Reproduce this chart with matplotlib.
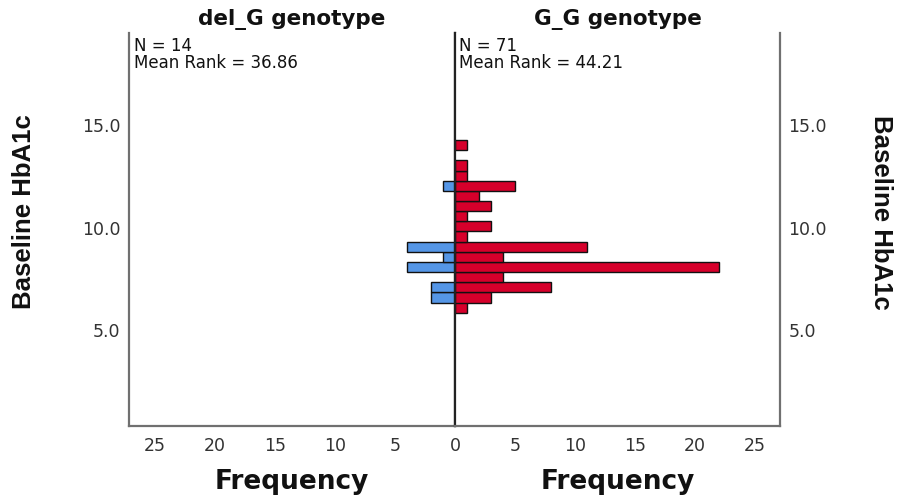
import matplotlib
matplotlib.use("Agg")
import matplotlib.pyplot as plt

# ---------------------------------------------------------------
# datos (bins de HbA1c, ancho ~0.5)
# ---------------------------------------------------------------
bin_centers = [6.12, 6.61, 7.11, 7.60, 8.10, 8.59, 9.09, 9.58, 10.08,
               10.57, 11.07, 11.56, 12.06, 12.55, 13.05, 14.04]
gg_counts   = [1, 3, 8, 4, 22, 4, 11, 1, 3, 1, 3, 2, 5, 1, 1, 1]
delg_counts = [0, 2, 2, 0, 4, 1, 4, 0, 0, 0, 0, 0, 1, 0, 0, 0]
bin_height  = 0.495

groups      = ["del_G genotype", "G_G genotype"]
n_labels    = ["N = 14", "N = 71"]
rank_labels = ["Mean Rank = 36.86", "Mean Rank = 44.21"]
y_ticks     = [5.0, 10.0, 15.0]
x_ticks_l   = [25, 20, 15, 10, 5]
x_ticks_r   = [0, 5, 10, 15, 20, 25]

RED   = "#D6002B"
BLUE  = "#5596E6"
FRAME = "#707070"
DARK  = "#222222"
TXT   = "#333333"

fig = plt.figure(figsize=(9.02, 5.0), dpi=100)
W, H = 902, 500

def px(x0, y0, x1, y1):
    return [x0 / W, 1 - y1 / H, (x1 - x0) / W, (y1 - y0) / H]

ax_l = fig.add_axes(px(129, 33, 455, 426))
ax_r = fig.add_axes(px(455, 33, 780, 426))

ax_l.barh(bin_centers, delg_counts, height=bin_height, color=BLUE,
          edgecolor="#111111", linewidth=1.0, zorder=2)
ax_r.barh(bin_centers, gg_counts, height=bin_height, color=RED,
          edgecolor="#111111", linewidth=1.0, zorder=2)

ylo, yhi = 0.34, 19.51
ax_l.set_xlim(326 / 12, 0)
ax_r.set_xlim(0, 325 / 12)
for ax in (ax_l, ax_r):
    ax.set_ylim(ylo, yhi)
    ax.spines["top"].set_visible(False)
    for s in ax.spines.values():
        s.set_color(FRAME)
        s.set_linewidth(1.6)
    ax.tick_params(length=0, labelsize=12.5, labelcolor=TXT)

# linea central
ax_l.spines["right"].set_color(DARK)
ax_r.spines["left"].set_color(DARK)

ax_l.set_xticks(x_ticks_l)
ax_l.set_xticklabels([str(v) for v in x_ticks_l])
ax_r.set_xticks(x_ticks_r)
ax_r.set_xticklabels([str(v) for v in x_ticks_r])
ax_l.tick_params(axis="x", pad=8)
ax_r.tick_params(axis="x", pad=8)

ax_l.set_yticks(y_ticks)
ax_l.set_yticklabels([f"{v:.1f}" for v in y_ticks])
ax_l.tick_params(axis="y", pad=6)
ax_r.set_yticks(y_ticks)
ax_r.set_yticklabels([f"{v:.1f}" for v in y_ticks])
ax_r.yaxis.tick_right()
ax_r.tick_params(axis="y", pad=6)

# titulos de panel y anotaciones
centers_x = [292, 617.5]
left_x = [134, 459]
for i in range(2):
    fig.text(centers_x[i] / W, 1 - 25 / H, groups[i], ha="center",
             va="baseline", fontsize=15.5, fontweight="bold", color="#111111")
    fig.text(left_x[i] / W, 1 - 37 / H, n_labels[i] + "\n" + rank_labels[i],
             ha="left", va="top", fontsize=12, linespacing=0.92,
             color="#111111")
    fig.text(centers_x[i] / W, 1 - 489 / H, "Frequency", ha="center",
             va="baseline", fontsize=19, fontweight="bold", color="#111111")

fig.text(24 / W, 1 - 212 / H, "Baseline HbA1c", rotation=90, ha="center",
         va="center", fontsize=18.5, fontweight="bold",
         family="Liberation Sans", color="#111111")
fig.text(881 / W, 1 - 212 / H, "Baseline HbA1c", rotation=-90, ha="center",
         va="center", fontsize=18.5, fontweight="bold",
         family="Liberation Sans", color="#111111")

fig.savefig("out.png", dpi=100)
